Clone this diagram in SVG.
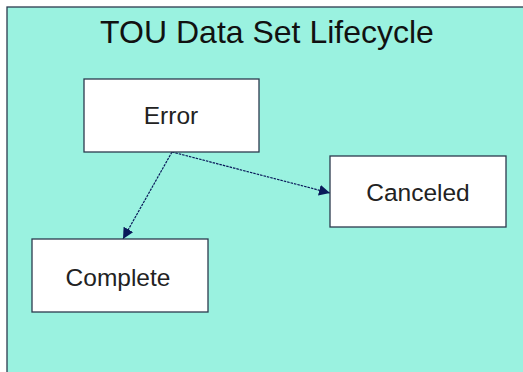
<svg xmlns="http://www.w3.org/2000/svg" width="523" height="372" viewBox="0 0 523 372">
<defs>
<style>
.node rect{fill:#ffffff;stroke:#2b3a4e;stroke-width:1.3}
.node text{font-family:"Liberation Sans",Arial,sans-serif;font-size:24.5px;fill:#222;text-anchor:middle}
.edge{stroke:#0a1a5a;stroke-width:1.2;fill:none;stroke-dasharray:2.5,1;marker-end:url(#arr)}
</style>
<marker id="arr" viewBox="0 0 10 10" refX="10" refY="5" markerWidth="11" markerHeight="11" markerUnits="userSpaceOnUse" orient="auto">
<path d="M0,0 L10,5 L0,10 z" fill="#0a1a5a"/>
</marker>
</defs>
<rect x="0" y="0" width="523" height="372" fill="#ffffff"/>
<rect x="7" y="7" width="530" height="380" fill="#9af2e0" stroke="#2b3a4e" stroke-width="1.3"/>
<text x="267" y="43" font-family="Liberation Sans,Arial,sans-serif" font-size="32" fill="#111" text-anchor="middle">TOU Data Set Lifecycle</text>
<g id="connectors">
<line class="edge" x1="172" y1="152" x2="330" y2="193"/>
<line class="edge" x1="172" y1="152" x2="123" y2="239"/>
</g>
<g id="error" class="node"><rect x="84" y="79" width="175" height="73"/><text x="171" y="124">Error</text></g>
<g id="canceled" class="node"><rect x="330" y="156" width="176" height="71"/><text x="418" y="201">Canceled</text></g>
<g id="complete" class="node"><rect x="32" y="239" width="176" height="73"/><text x="118" y="286">Complete</text></g>
</svg>
